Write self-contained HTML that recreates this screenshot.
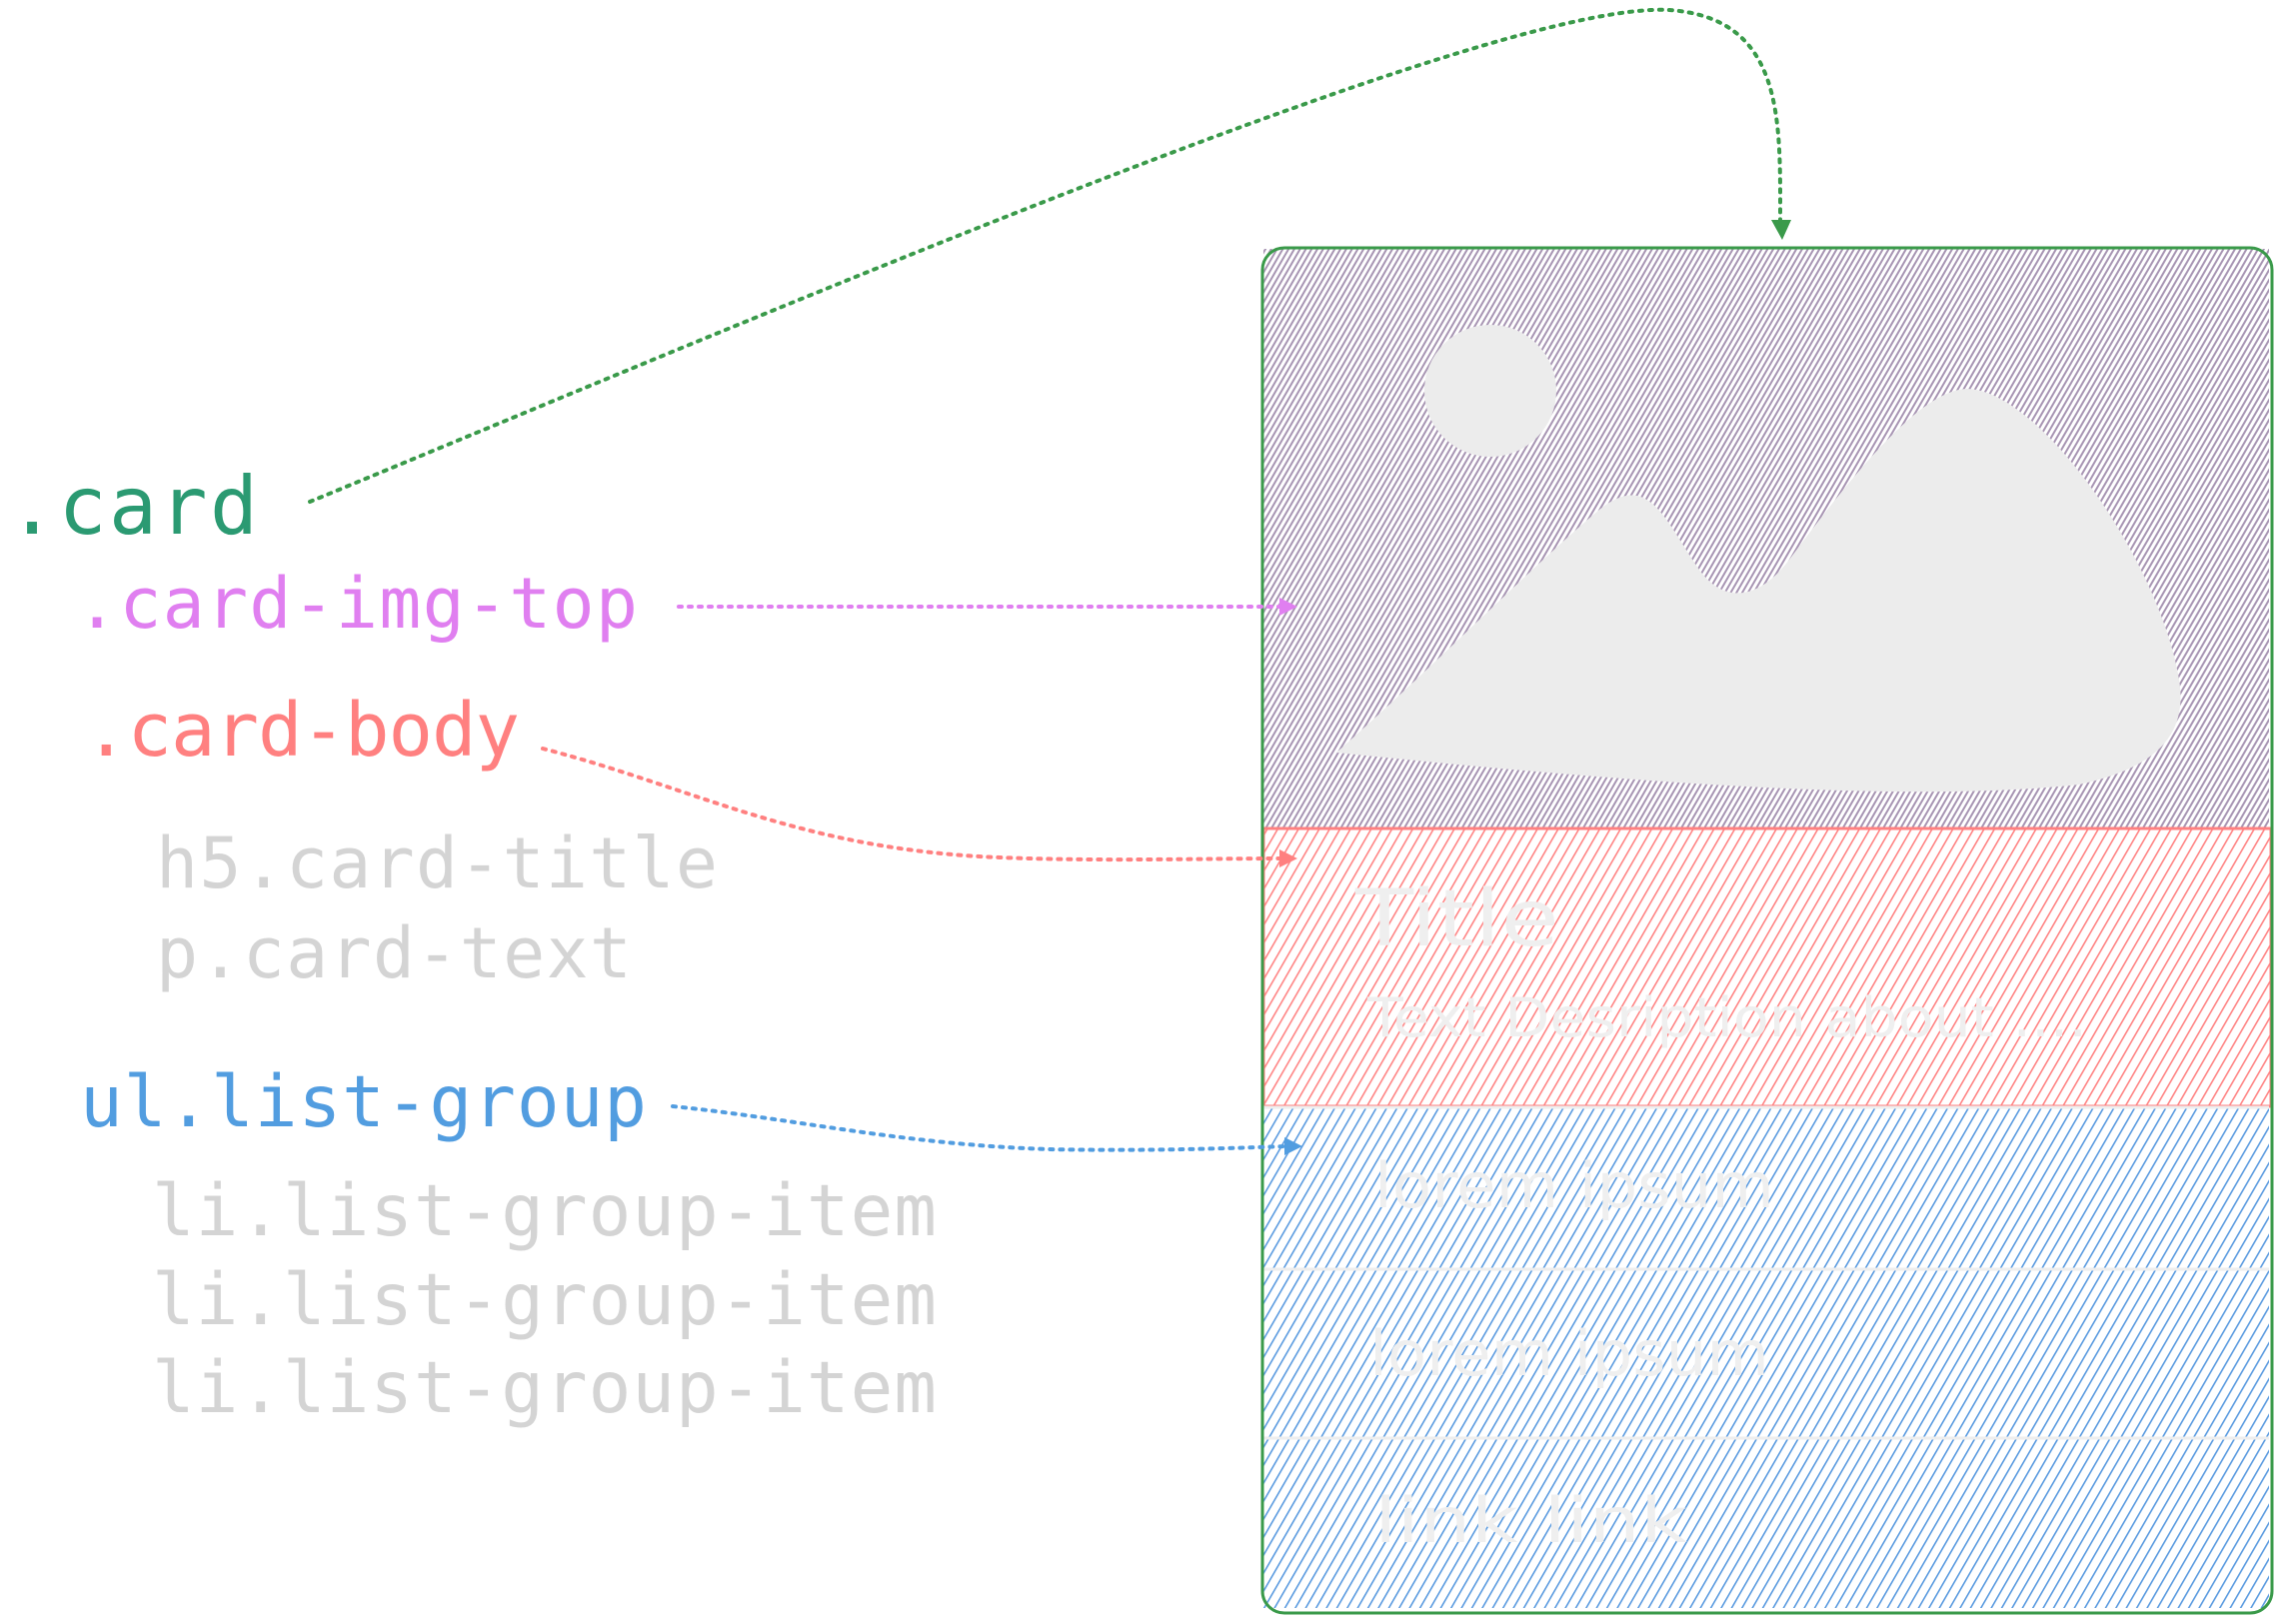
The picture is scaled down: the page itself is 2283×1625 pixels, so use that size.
<!DOCTYPE html>
<html><head><meta charset="utf-8"><style>
html,body{margin:0;padding:0;background:#fff;}
svg{display:block;}
</style></head><body>
<svg width="2283" height="1625" viewBox="0 0 2283 1625" xmlns="http://www.w3.org/2000/svg">
<defs>
<pattern id="hp" width="5" height="5" patternUnits="userSpaceOnUse" patternTransform="rotate(30)">
<rect width="5" height="5" fill="#fff"/><rect width="2" height="5" fill="#8a7199" opacity="0.75"/></pattern>
<pattern id="hr" width="9" height="9" patternUnits="userSpaceOnUse" patternTransform="rotate(30)">
<rect width="9" height="9" fill="#fff"/><rect width="1.6" height="9" fill="#ff8585"/></pattern>
<pattern id="hb" width="9" height="9" patternUnits="userSpaceOnUse" patternTransform="rotate(30)">
<rect width="9" height="9" fill="#fff"/><rect width="1.6" height="9" fill="#5b9be0"/></pattern>
</defs>

<rect x="1264" y="249" width="1006" height="579" fill="url(#hp)"/>
<rect x="1264" y="829" width="1008" height="278" fill="url(#hr)" stroke="#ff8080" stroke-width="3"/>
<rect x="1264" y="1109" width="1006" height="500" fill="url(#hb)"/>
<line x1="1264" y1="1270" x2="2270" y2="1270" stroke="#eee" stroke-width="3"/>
<line x1="1264" y1="1439" x2="2270" y2="1439" stroke="#eee" stroke-width="3"/>
<line x1="1264" y1="1108" x2="2270" y2="1108" stroke="#eee" stroke-width="3"/>
<rect x="1263" y="248" width="1010" height="1366" rx="22" fill="none" stroke="#3a9a4a" stroke-width="3"/>

<circle cx="1491" cy="391" r="66" fill="#ececec"/>
<path d="M1337,753 C1420,680 1540,560 1600,510 C1650,470 1665,520 1700,570 C1725,605 1760,600 1790,560 C1850,480 1920,390 1968,389 C2040,390 2160,560 2180,680 C2190,740 2150,770 2080,785 C1900,805 1600,780 1337,753 Z" fill="#ececec"/>

<g font-family="'Comic Sans MS','DejaVu Sans',sans-serif" fill="#efefef">
<text x="1356" y="946" font-size="78" textLength="204" lengthAdjust="spacingAndGlyphs">Title</text>
<text x="1368" y="1037" font-size="54" textLength="720" lengthAdjust="spacingAndGlyphs">Text Desription about ....</text>
<text x="1375" y="1208" font-size="62" textLength="400" lengthAdjust="spacingAndGlyphs">lorem ipsum</text>
<text x="1370" y="1376" font-size="62" textLength="400" lengthAdjust="spacingAndGlyphs">lorem ipsum</text>
<text x="1375" y="1543" font-size="62" textLength="313" lengthAdjust="spacingAndGlyphs">link   link</text>
</g>

<g font-family="'DejaVu Sans Mono','Liberation Mono',monospace">
<text x="8" y="534" font-size="80" fill="#2b9a72" textLength="250">.card</text>
<text x="76" y="628" font-size="70" fill="#e07ff0" textLength="562">.card-img-top</text>
<text x="84" y="756" font-size="74" fill="#ff8080" textLength="436">.card-body</text>
<text x="156" y="888" font-size="70" fill="#d4d4d4" textLength="562">h5.card-title</text>
<text x="156" y="978" font-size="70" fill="#d4d4d4" textLength="476">p.card-text</text>
<text x="80" y="1127" font-size="71" fill="#529de0" textLength="567">ul.list-group</text>
<text x="152" y="1236" font-size="71" fill="#d4d4d4" textLength="785">li.list-group-item</text>
<text x="152" y="1325" font-size="71" fill="#d4d4d4" textLength="785">li.list-group-item</text>
<text x="152" y="1413" font-size="71" fill="#d4d4d4" textLength="785">li.list-group-item</text>
</g>

<g fill="none" stroke-width="4" stroke-dasharray="3 7" stroke-linecap="round">
<path d="M310,502 C800,300 1500,0 1670,10 C1785,18 1781,120 1781,220" stroke="#3a9a4a"/>
<path d="M679,607 L1282,607" stroke="#e07ff0"/>
<path d="M543,749 C700,790 800,850 1000,858 C1100,862 1200,859 1282,859" stroke="#ff8080"/>
<path d="M673,1107 C800,1120 900,1145 1050,1150 C1150,1152 1230,1149 1286,1147" stroke="#529de0"/>
</g>
<polygon points="1772,220 1792,220 1783,240" fill="#3a9a4a"/>
<polygon points="1280,598 1298,607 1280,616" fill="#e07ff0"/>
<polygon points="1280,850 1298,859 1280,868" fill="#ff8080"/>
<polygon points="1285,1138 1303,1147 1285,1156" fill="#529de0"/>
</svg>
</body></html>
